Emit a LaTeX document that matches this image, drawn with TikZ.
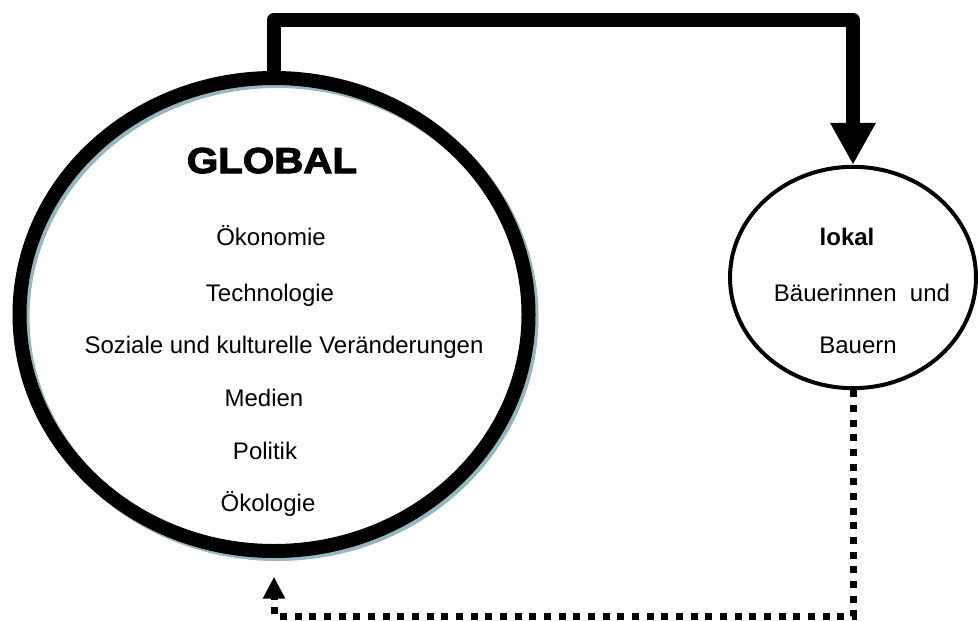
\documentclass[tikz,border=0pt]{standalone}
\usepackage{fontspec}
\setmainfont{Liberation Sans}
\newfontfamily\headfont{Liberation Sans Bold}[FakeStretch=1.12,FakeBold=3]
\usetikzlibrary{arrows.meta,shapes.geometric}

\definecolor{ringshade}{RGB}{150,182,192}

\tikzset{
  bigring/.style={ellipse, draw, line width=10.5pt, minimum width=381.75pt, minimum height=354.75pt, inner sep=0pt},
  smallring/.style={ellipse, draw, line width=3pt, minimum width=184.5pt, minimum height=166pt, inner sep=0pt},
  entry/.style={anchor=base, inner sep=0.75pt, font=\fontsize{18}{21}\selectfont},
  push/.style={line width=11pt, line join=round, -{Triangle[length=31.5pt,width=32pt]}},
  feedback/.style={line width=5.25pt, dash pattern=on 5.25pt off 5.75pt, shorten >=14pt, -{Triangle[length=16.5pt,width=15.75pt]}},
}

\begin{document}
\begin{tikzpicture}[x=0.75pt,y=0.75pt,yscale=-1,xscale=1]
  \useasboundingbox (0,0) rectangle (978,621);

  % the two rings, the big one with a light shade behind it
  \node [bigring, draw=ringshade] (globalshade) at (277,317.5) {};
  \node [bigring] (global) at (274,314.5) {};
  \node [smallring] (lokal) at (853,277.5) {};

  % Text in the big ring
  \node [anchor=base, inner sep=0pt, font=\headfont\fontsize{27}{30}\selectfont] (globaltitle) at (272,173) {GLOBAL};
  \node [entry] (oekonomie) at (271,245) {Ökonomie};
  \node [entry] (technologie) at (270,301) {Technologie};
  \node [entry] (soziales) at (284,353) {Soziale und kulturelle Veränderungen};
  \node [entry] (medien) at (264,406) {Medien};
  \node [entry] (politik) at (265,459) {Politik};
  \node [entry] (oekologie) at (268,511) {Ökologie};

  % Text in the small ring
  \node [entry, font=\bfseries\fontsize{18}{21}\selectfont] (lokaltitle) at (847,245) {lokal};
  \node [entry] (baeuerinnen) at (862,301) {Bäuerinnen\ \ und};
  \node [entry] (bauern) at (858,353) {Bauern};

  % Connectors
  \draw [push] (global.north) -- (global.north |- 0,20) -| (lokal.north);
  \draw [feedback] (lokal.south) |- (global.south |- 0,616) -- (global.south);

\end{tikzpicture}
\end{document}
